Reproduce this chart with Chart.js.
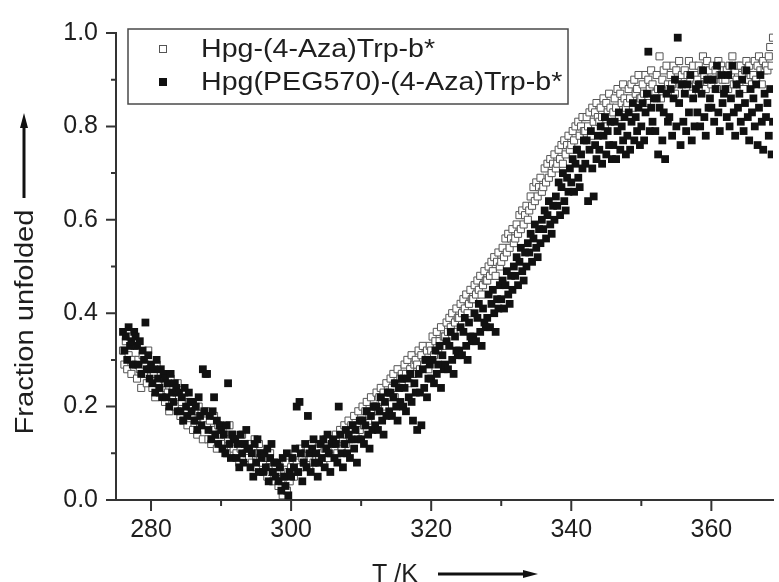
<!DOCTYPE html>
<html>
<head>
<meta charset="utf-8">
<script src="https://cdn.jsdelivr.net/npm/chart.js@4.4.1/dist/chart.umd.min.js"></script>
<style>
  html, body { margin: 0; padding: 0; background: #fff; overflow: hidden; }
  #wrap { position: relative; width: 779px; height: 582px; }
</style>
</head>
<body>
<div id="wrap"><canvas id="chart" width="779" height="582"></canvas></div>
<script>
// Temperature ramp (K), shared by both melting curves
const temperatures = [
  276.0,276.2,276.4,276.6,276.8,277.0,277.2,277.4,277.6,277.8,
  278.0,278.2,278.4,278.6,278.8,279.0,279.2,279.4,279.6,279.8,
  280.0,280.2,280.4,280.6,280.8,281.0,281.2,281.4,281.6,281.8,
  282.0,282.2,282.4,282.6,282.8,283.0,283.2,283.4,283.6,283.8,
  284.0,284.2,284.4,284.6,284.8,285.0,285.2,285.4,285.6,285.8,
  286.0,286.2,286.4,286.6,286.8,287.0,287.2,287.4,287.6,287.8,
  288.0,288.2,288.4,288.6,288.8,289.0,289.2,289.4,289.6,289.8,
  290.0,290.2,290.4,290.6,290.8,291.0,291.2,291.4,291.6,291.8,
  292.0,292.2,292.4,292.6,292.8,293.0,293.2,293.4,293.6,293.8,
  294.0,294.2,294.4,294.6,294.8,295.0,295.2,295.4,295.6,295.8,
  296.0,296.2,296.4,296.6,296.8,297.0,297.2,297.4,297.6,297.8,
  298.0,298.2,298.4,298.6,298.8,299.0,299.2,299.4,299.6,299.8,
  300.0,300.2,300.4,300.6,300.8,301.0,301.2,301.4,301.6,301.8,
  302.0,302.2,302.4,302.6,302.8,303.0,303.2,303.4,303.6,303.8,
  304.0,304.2,304.4,304.6,304.8,305.0,305.2,305.4,305.6,305.8,
  306.0,306.2,306.4,306.6,306.8,307.0,307.2,307.4,307.6,307.8,
  308.0,308.2,308.4,308.6,308.8,309.0,309.2,309.4,309.6,309.8,
  310.0,310.2,310.4,310.6,310.8,311.0,311.2,311.4,311.6,311.8,
  312.0,312.2,312.4,312.6,312.8,313.0,313.2,313.4,313.6,313.8,
  314.0,314.2,314.4,314.6,314.8,315.0,315.2,315.4,315.6,315.8,
  316.0,316.2,316.4,316.6,316.8,317.0,317.2,317.4,317.6,317.8,
  318.0,318.2,318.4,318.6,318.8,319.0,319.2,319.4,319.6,319.8,
  320.0,320.2,320.4,320.6,320.8,321.0,321.2,321.4,321.6,321.8,
  322.0,322.2,322.4,322.6,322.8,323.0,323.2,323.4,323.6,323.8,
  324.0,324.2,324.4,324.6,324.8,325.0,325.2,325.4,325.6,325.8,
  326.0,326.2,326.4,326.6,326.8,327.0,327.2,327.4,327.6,327.8,
  328.0,328.2,328.4,328.6,328.8,329.0,329.2,329.4,329.6,329.8,
  330.0,330.2,330.4,330.6,330.8,331.0,331.2,331.4,331.6,331.8,
  332.0,332.2,332.4,332.6,332.8,333.0,333.2,333.4,333.6,333.8,
  334.0,334.2,334.4,334.6,334.8,335.0,335.2,335.4,335.6,335.8,
  336.0,336.2,336.4,336.6,336.8,337.0,337.2,337.4,337.6,337.8,
  338.0,338.2,338.4,338.6,338.8,339.0,339.2,339.4,339.6,339.8,
  340.0,340.2,340.4,340.6,340.8,341.0,341.2,341.4,341.6,341.8,
  342.0,342.2,342.4,342.6,342.8,343.0,343.2,343.4,343.6,343.8,
  344.0,344.2,344.4,344.6,344.8,345.0,345.2,345.4,345.6,345.8,
  346.0,346.2,346.4,346.6,346.8,347.0,347.2,347.4,347.6,347.8,
  348.0,348.2,348.4,348.6,348.8,349.0,349.2,349.4,349.6,349.8,
  350.0,350.2,350.4,350.6,350.8,351.0,351.2,351.4,351.6,351.8,
  352.0,352.2,352.4,352.6,352.8,353.0,353.2,353.4,353.6,353.8,
  354.0,354.2,354.4,354.6,354.8,355.0,355.2,355.4,355.6,355.8,
  356.0,356.2,356.4,356.6,356.8,357.0,357.2,357.4,357.6,357.8,
  358.0,358.2,358.4,358.6,358.8,359.0,359.2,359.4,359.6,359.8,
  360.0,360.2,360.4,360.6,360.8,361.0,361.2,361.4,361.6,361.8,
  362.0,362.2,362.4,362.6,362.8,363.0,363.2,363.4,363.6,363.8,
  364.0,364.2,364.4,364.6,364.8,365.0,365.2,365.4,365.6,365.8,
  366.0,366.2,366.4,366.6,366.8,367.0,367.2,367.4,367.6,367.8,
  368.0,368.2,368.4,368.6,368.8
];

// Fraction unfolded, Hpg-(4-Aza)Trp-b*
const fractionHpg = [
  0.32,0.29,0.34,0.28,0.31,0.35,0.27,0.30,0.33,0.29,
  0.26,0.30,0.28,0.24,0.31,0.27,0.29,0.25,0.32,0.28,
  0.28,0.24,0.27,0.22,0.29,0.25,0.23,0.27,0.24,0.26,
  0.21,0.25,0.23,0.19,0.26,0.22,0.24,0.20,0.23,0.25,
  0.22,0.18,0.21,0.17,0.23,0.19,0.16,0.21,0.20,0.18,
  0.15,0.19,0.17,0.14,0.20,0.16,0.18,0.13,0.17,0.19,
  0.16,0.13,0.17,0.12,0.15,0.18,0.14,0.11,0.16,0.14,
  0.12,0.15,0.11,0.14,0.10,0.13,0.16,0.12,0.14,0.11,
  0.13,0.10,0.12,0.08,0.11,0.14,0.09,0.12,0.10,0.11,
  0.09,0.12,0.08,0.11,0.13,0.07,0.10,0.12,0.09,0.08,
  0.08,0.06,0.09,0.05,0.07,0.10,0.06,0.04,0.08,0.07,
  0.06,0.03,0.07,0.04,0.01,0.05,0.08,0.02,0.06,0.04,
  0.07,0.09,0.05,0.10,0.08,0.06,0.11,0.07,0.09,0.08,
  0.10,0.08,0.11,0.07,0.09,0.12,0.08,0.10,0.09,0.11,
  0.09,0.12,0.10,0.08,0.11,0.13,0.09,0.11,0.10,0.12,
  0.13,0.11,0.14,0.10,0.12,0.15,0.11,0.13,0.16,0.12,
  0.14,0.17,0.13,0.16,0.15,0.18,0.14,0.16,0.19,0.15,
  0.17,0.20,0.16,0.19,0.21,0.17,0.18,0.22,0.19,0.20,
  0.20,0.23,0.19,0.22,0.24,0.21,0.23,0.20,0.25,0.22,
  0.23,0.26,0.24,0.27,0.22,0.25,0.28,0.24,0.26,0.27,
  0.26,0.29,0.27,0.30,0.25,0.28,0.31,0.27,0.29,0.30,
  0.29,0.32,0.28,0.31,0.33,0.29,0.30,0.32,0.28,0.33,
  0.32,0.35,0.31,0.34,0.36,0.32,0.34,0.37,0.33,0.35,
  0.35,0.38,0.36,0.39,0.37,0.40,0.36,0.38,0.41,0.39,
  0.39,0.42,0.40,0.43,0.41,0.44,0.40,0.42,0.45,0.43,
  0.43,0.46,0.44,0.47,0.45,0.48,0.44,0.46,0.49,0.47,
  0.47,0.50,0.48,0.51,0.49,0.52,0.48,0.51,0.53,0.50,
  0.51,0.54,0.52,0.56,0.53,0.57,0.54,0.56,0.58,0.55,
  0.56,0.59,0.57,0.61,0.58,0.62,0.59,0.61,0.63,0.60,
  0.62,0.65,0.63,0.67,0.64,0.68,0.65,0.67,0.69,0.66,
  0.67,0.71,0.68,0.72,0.69,0.73,0.70,0.72,0.74,0.71,
  0.72,0.75,0.73,0.76,0.72,0.77,0.74,0.76,0.78,0.75,
  0.76,0.79,0.77,0.80,0.75,0.81,0.78,0.80,0.82,0.79,
  0.79,0.82,0.80,0.83,0.78,0.84,0.81,0.83,0.85,0.82,
  0.81,0.84,0.82,0.86,0.80,0.85,0.83,0.87,0.84,0.82,
  0.83,0.86,0.84,0.88,0.82,0.87,0.85,0.89,0.86,0.84,
  0.85,0.88,0.86,0.89,0.84,0.90,0.87,0.88,0.91,0.86,
  0.86,0.89,0.87,0.91,0.85,0.90,0.88,0.92,0.89,0.87,
  0.87,0.91,0.88,0.95,0.86,0.90,0.92,0.88,0.93,0.89,
  0.88,0.91,0.89,0.93,0.87,0.92,0.90,0.94,0.89,0.91,
  0.89,0.92,0.88,0.91,0.94,0.90,0.87,0.93,0.91,0.89,
  0.90,0.93,0.89,0.92,0.95,0.91,0.88,0.94,0.90,0.92,
  0.89,0.93,0.90,0.92,0.88,0.94,0.91,0.93,0.90,0.92,
  0.90,0.92,0.88,0.93,0.91,0.95,0.89,0.92,0.90,0.93,
  0.89,0.93,0.91,0.88,0.92,0.94,0.90,0.93,0.91,0.89,
  0.91,0.94,0.90,0.93,0.95,0.92,0.89,0.94,0.92,0.93,
  0.92,0.95,0.97,0.93,0.99
];

// Fraction unfolded, Hpg(PEG570)-(4-Aza)Trp-b*
const fractionHpgPeg = [
  0.36,0.32,0.35,0.30,0.37,0.33,0.34,0.29,0.36,0.35,
  0.33,0.29,0.34,0.27,0.32,0.30,0.38,0.28,0.31,0.26,
  0.29,0.25,0.28,0.23,0.30,0.26,0.24,0.28,0.22,0.27,
  0.26,0.22,0.25,0.20,0.27,0.23,0.21,0.25,0.24,0.19,
  0.23,0.19,0.22,0.17,0.24,0.20,0.18,0.23,0.21,0.19,
  0.21,0.17,0.20,0.15,0.22,0.18,0.16,0.28,0.19,0.27,
  0.27,0.15,0.18,0.13,0.19,0.22,0.14,0.17,0.12,0.16,
  0.15,0.11,0.14,0.10,0.16,0.25,0.12,0.09,0.14,0.13,
  0.13,0.09,0.12,0.07,0.14,0.10,0.08,0.12,0.15,0.11,
  0.11,0.07,0.10,0.05,0.12,0.08,0.13,0.06,0.10,0.09,
  0.06,0.10,0.07,0.11,0.04,0.09,0.12,0.06,0.08,0.05,
  0.08,0.04,0.07,0.02,0.09,0.05,0.03,0.10,0.01,0.06,
  0.05,0.09,0.07,0.11,0.20,0.06,0.21,0.10,0.04,0.08,
  0.12,0.07,0.18,0.10,0.06,0.11,0.13,0.08,0.10,0.05,
  0.08,0.12,0.09,0.13,0.07,0.11,0.14,0.10,0.06,0.12,
  0.13,0.09,0.12,0.08,0.20,0.14,0.10,0.07,0.12,0.15,
  0.10,0.14,0.09,0.13,0.16,0.11,0.15,0.08,0.13,0.17,
  0.13,0.17,0.12,0.16,0.19,0.14,0.11,0.18,0.15,0.20,
  0.16,0.20,0.15,0.19,0.22,0.17,0.14,0.21,0.18,0.23,
  0.19,0.23,0.18,0.22,0.25,0.20,0.17,0.24,0.21,0.26,
  0.20,0.24,0.19,0.26,0.22,0.27,0.21,0.17,0.25,0.23,
  0.15,0.27,0.23,0.16,0.28,0.24,0.30,0.22,0.26,0.29,
  0.26,0.30,0.25,0.32,0.27,0.29,0.33,0.24,0.31,0.28,
  0.29,0.34,0.28,0.33,0.36,0.30,0.27,0.35,0.32,0.31,
  0.32,0.37,0.31,0.36,0.39,0.33,0.30,0.38,0.35,0.34,
  0.35,0.40,0.34,0.39,0.42,0.36,0.33,0.41,0.38,0.37,
  0.39,0.44,0.37,0.42,0.45,0.40,0.36,0.43,0.41,0.46,
  0.43,0.47,0.41,0.46,0.49,0.44,0.42,0.48,0.45,0.50,
  0.48,0.52,0.46,0.51,0.54,0.49,0.47,0.53,0.50,0.55,
  0.53,0.57,0.51,0.56,0.59,0.54,0.52,0.58,0.55,0.60,
  0.58,0.62,0.56,0.61,0.64,0.59,0.57,0.63,0.60,0.65,
  0.63,0.68,0.61,0.67,0.70,0.64,0.62,0.69,0.66,0.71,
  0.68,0.73,0.66,0.72,0.75,0.69,0.67,0.74,0.71,0.77,
  0.72,0.77,0.64,0.75,0.79,0.71,0.65,0.76,0.73,0.78,
  0.75,0.80,0.72,0.78,0.82,0.74,0.79,0.76,0.81,0.73,
  0.76,0.81,0.73,0.79,0.83,0.75,0.80,0.77,0.82,0.74,
  0.78,0.83,0.75,0.81,0.85,0.77,0.82,0.79,0.84,0.76,
  0.80,0.85,0.77,0.83,0.87,0.96,0.79,0.84,0.81,0.86,
  0.79,0.86,0.74,0.84,0.88,0.77,0.83,0.73,0.87,0.81,
  0.82,0.88,0.78,0.86,0.90,0.80,0.99,0.85,0.76,0.89,
  0.81,0.87,0.79,0.89,0.83,0.91,0.77,0.86,0.80,0.88,
  0.83,0.89,0.80,0.87,0.92,0.82,0.78,0.90,0.84,0.86,
  0.84,0.90,0.81,0.88,0.93,0.83,0.79,0.91,0.85,0.87,
  0.88,0.82,0.91,0.80,0.86,0.93,0.83,0.78,0.89,0.84,
  0.87,0.81,0.90,0.79,0.85,0.92,0.82,0.77,0.88,0.83,
  0.86,0.80,0.89,0.76,0.84,0.91,0.81,0.75,0.87,0.82,
  0.85,0.78,0.88,0.74,0.81
];

const seriesNames = ['Hpg-(4-Aza)Trp-b*', 'Hpg(PEG570)-(4-Aza)Trp-b*'];
const xMajorTicks = [280, 300, 320, 340, 360];
const xMinorTicks = [290, 310, 330, 350];
const yMajorTicks = [0.0, 0.2, 0.4, 0.6, 0.8, 1.0];
const yMinorTicks = [0.1, 0.3, 0.5, 0.7, 0.9];
const xTitle = 'T /K';
const yTitle = 'Fraction unfolded';

const FONT = '"Liberation Sans", Arial, Helvetica, sans-serif';
const INK = '#1e1e1e';
const AXIS = '#333333';

function toPoints(xs, ys) {
  return xs.map((t, i) => ({ x: t, y: ys[i] }));
}

function drawArrow(ctx, x1, y1, x2, y2) {
  const ang = Math.atan2(y2 - y1, x2 - x1);
  const headLen = 15, headHalf = 4;
  ctx.save();
  ctx.strokeStyle = '#111';
  ctx.fillStyle = '#111';
  ctx.lineWidth = 3;
  ctx.beginPath();
  ctx.moveTo(x1, y1);
  ctx.lineTo(x2 - Math.cos(ang) * (headLen - 2), y2 - Math.sin(ang) * (headLen - 2));
  ctx.stroke();
  ctx.translate(x2, y2);
  ctx.rotate(ang);
  ctx.beginPath();
  ctx.moveTo(0, 0);
  ctx.lineTo(-headLen, -headHalf);
  ctx.lineTo(-headLen, headHalf);
  ctx.closePath();
  ctx.fill();
  ctx.restore();
}

// Outward major/minor tick marks, axis titles with arrows, framed legend
const decorations = {
  id: 'decorations',
  afterDraw(chart) {
    const { ctx, chartArea, scales } = chart;
    const xs = scales.x, ys = scales.y;
    ctx.save();
    ctx.strokeStyle = AXIS;
    ctx.lineWidth = 2;
    ctx.beginPath();
    xMajorTicks.forEach(v => { const p = xs.getPixelForValue(v); ctx.moveTo(p, chartArea.bottom); ctx.lineTo(p, chartArea.bottom + 11); });
    xMinorTicks.forEach(v => { const p = xs.getPixelForValue(v); ctx.moveTo(p, chartArea.bottom); ctx.lineTo(p, chartArea.bottom + 6); });
    yMajorTicks.forEach(v => { const p = ys.getPixelForValue(v); ctx.moveTo(chartArea.left, p); ctx.lineTo(chartArea.left - 10, p); });
    yMinorTicks.forEach(v => { const p = ys.getPixelForValue(v); ctx.moveTo(chartArea.left, p); ctx.lineTo(chartArea.left - 5, p); });
    ctx.stroke();

    // y title, rotated, with upward arrow
    ctx.fillStyle = INK;
    ctx.font = '26px ' + FONT;
    ctx.save();
    ctx.translate(33, 322);
    ctx.rotate(-Math.PI / 2);
    ctx.scale(1.12, 1);
    ctx.textAlign = 'center';
    ctx.textBaseline = 'alphabetic';
    ctx.fillText(yTitle, 0, 0);
    ctx.restore();
    drawArrow(ctx, 24, 198, 24, 113);

    // x title with rightward arrow
    ctx.font = '25px ' + FONT;
    ctx.textAlign = 'left';
    ctx.textBaseline = 'alphabetic';
    ctx.fillText(xTitle, 372, 582);
    drawArrow(ctx, 438, 574, 538, 574);

    // legend
    const bx = 128, by = 29, bw = 440, bh = 75;
    ctx.fillStyle = '#fff';
    ctx.fillRect(bx, by, bw, bh);
    ctx.strokeStyle = '#4a4a4a';
    ctx.lineWidth = 1.5;
    ctx.strokeRect(bx, by, bw, bh);
    const rows = [49, 82];
    ctx.font = '26px ' + FONT;
    ctx.textBaseline = 'middle';
    chart.data.datasets.forEach((ds, i) => {
      const cy = rows[i];
      ctx.fillStyle = ds.backgroundColor;
      ctx.strokeStyle = ds.borderColor;
      ctx.lineWidth = 1;
      if (i === 0) {
        ctx.fillRect(159.5, cy - 3.5, 7, 7);
        ctx.strokeRect(159.5, cy - 3.5, 7, 7);
      } else {
        ctx.fillRect(159, cy - 4, 8, 8);
      }
      ctx.save();
      ctx.translate(201, cy + 1);
      ctx.scale(1.1, 1);
      ctx.fillStyle = INK;
      ctx.fillText(ds.label, 0, 0);
      ctx.restore();
    });
    ctx.restore();
  }
};

new Chart(document.getElementById('chart'), {
  type: 'scatter',
  data: {
    datasets: [
      {
        label: seriesNames[0],
        data: toPoints(temperatures, fractionHpg),
        pointStyle: 'rect',
        pointRadius: 5,
        pointBorderWidth: 1,
        borderColor: '#555555',
        backgroundColor: '#ffffff',
        order: 1
      },
      {
        label: seriesNames[1],
        data: toPoints(temperatures, fractionHpgPeg),
        pointStyle: 'rect',
        pointRadius: 5.5,
        pointBorderWidth: 0,
        borderColor: '#111111',
        backgroundColor: '#111111',
        order: 0
      }
    ]
  },
  options: {
    responsive: false,
    animation: false,
    devicePixelRatio: 1,
    layout: { padding: { top: 29, right: 0, left: 0, bottom: 0 } },
    plugins: { legend: { display: false }, tooltip: { enabled: false } },
    scales: {
      x: {
        type: 'linear',
        min: 275,
        max: 368.8,
        afterBuildTicks: s => { s.ticks = xMajorTicks.map(v => ({ value: v })); },
        afterFit: s => { s.height = 82; },
        grid: { display: false, drawTicks: false },
        border: { display: true, color: AXIS, width: 2 },
        ticks: { color: INK, font: { family: FONT, size: 25 }, padding: 15, maxRotation: 0, autoSkip: false, callback: v => String(v) }
      },
      y: {
        type: 'linear',
        min: 0,
        max: 1,
        afterBuildTicks: s => { s.ticks = yMajorTicks.map(v => ({ value: v })); },
        afterFit: s => { s.width = 116; },
        grid: { display: false, drawTicks: false },
        border: { display: true, color: AXIS, width: 2 },
        ticks: { color: INK, font: { family: FONT, size: 25 }, padding: 18, autoSkip: false, callback: v => v.toFixed(1) }
      }
    }
  },
  plugins: [decorations]
});
</script>
</body>
</html>
